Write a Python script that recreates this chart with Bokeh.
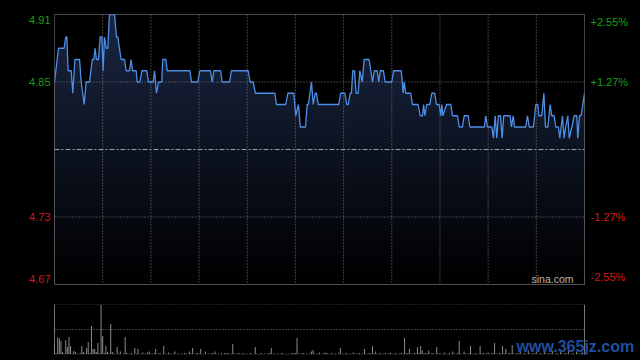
import numpy as np
from bokeh.plotting import figure
from bokeh.layouts import column, row
from bokeh.models import Range1d, Span
from bokeh.core.properties import value
from bokeh.embed import file_html
from bokeh.resources import INLINE

# ---------------- data ----------------
session_minutes = 330          # 09:30-12:00 + 13:00-16:00
prev_close = 4.79
price_low, price_high = 4.67, 4.91

price_ticks = [4.91, 4.85, 4.73, 4.67]
price_tick_labels = ["4.91", "4.85", "4.73", "4.67"]
pct_tick_labels = ["+2.55%", "+1.27%", "-1.27%", "-2.55%"]
grid_prices = [4.85, 4.73]
grid_minutes = [30, 60, 90, 120, 150, 180, 210, 240, 270, 300]

# intraday price line vertices (minute of session, price)
times = [
    0, 2.5, 6.0, 7.0, 7.7, 8.5, 10.4, 11.4, 12.7, 15.6,
    16.6, 18.5, 19.7, 21.8, 23.5, 24.5, 25.3, 26.1, 27.4, 28.4,
    29.5, 30.3, 31.1, 32.2, 33.2, 34.2, 37.4, 38.6, 39.4, 41.5,
    43.6, 44.6, 46.7, 47.7, 48.6, 50.9, 51.5, 53.1, 54.4, 57.5,
    58.5, 61.4, 62.3, 63.5, 64.8, 66.8, 67.4, 69.3, 70.2, 84.3,
    85.3, 89.2, 90.5, 97.1, 98.2, 99.2, 103.4, 104.4, 109.0, 110.2,
    120.6, 121.8, 123.7, 125.1, 137.2, 138.2, 144.0, 145.3, 149.0, 150.2,
    151.9, 153.0, 156.3, 157.3, 158.1, 160.0, 161.1, 162.3, 163.1, 164.2,
    177.0, 178.1, 180.8, 182.0, 182.9, 184.1, 184.9, 185.7, 186.8, 187.8,
    189.1, 190.1, 191.6, 192.8, 195.9, 198.0, 199.1, 200.9, 201.9, 202.8,
    204.8, 205.9, 210.0, 211.1, 215.9, 216.5, 217.1, 217.7, 218.7, 221.8,
    222.9, 226.4, 227.7, 229.1, 229.8, 230.6, 231.8, 233.7, 234.9, 236.8,
    237.8, 239.5, 240.5, 241.2, 241.8, 244.1, 246.8, 247.8, 250.9, 252.0,
    254.0, 255.1, 257.6, 258.6, 265.2, 267.7, 268.5, 269.6, 272.3, 273.3,
    274.4, 275.4, 276.4, 277.7, 278.7, 279.7, 283.7, 284.5, 285.6, 286.4,
    293.4, 294.5, 295.6, 298.2, 299.7, 300.9, 301.5, 303.4, 304.7, 305.7,
    307.2, 308.6, 309.6, 311.1, 312.1, 313.8, 314.6, 316.3, 317.3, 318.3,
    319.6, 320.5, 322.1, 323.6, 325.2, 325.8, 326.9, 327.9, 330,
]
prices = [
    4.85, 4.88, 4.88, 4.89, 4.89, 4.86, 4.86, 4.84, 4.87, 4.87,
    4.85, 4.83, 4.85, 4.85, 4.87, 4.87, 4.88, 4.87, 4.87, 4.89,
    4.89, 4.86, 4.89, 4.88, 4.88, 4.91, 4.91, 4.89, 4.89, 4.87,
    4.87, 4.86, 4.86, 4.87, 4.86, 4.86, 4.85, 4.85, 4.86, 4.86,
    4.85, 4.85, 4.86, 4.84, 4.85, 4.85, 4.87, 4.87, 4.86, 4.86,
    4.85, 4.85, 4.86, 4.86, 4.85, 4.86, 4.86, 4.85, 4.85, 4.86,
    4.86, 4.85, 4.85, 4.84, 4.84, 4.83, 4.83, 4.84, 4.84, 4.82,
    4.83, 4.81, 4.81, 4.83, 4.83, 4.85, 4.83, 4.84, 4.84, 4.83,
    4.83, 4.84, 4.84, 4.83, 4.83, 4.84, 4.84, 4.86, 4.86, 4.84,
    4.84, 4.86, 4.85, 4.87, 4.87, 4.85, 4.86, 4.86, 4.85, 4.86,
    4.86, 4.85, 4.85, 4.86, 4.86, 4.85, 4.84, 4.85, 4.84, 4.84,
    4.83, 4.83, 4.82, 4.82, 4.83, 4.82, 4.83, 4.83, 4.84, 4.84,
    4.83, 4.83, 4.82, 4.83, 4.82, 4.83, 4.83, 4.82, 4.82, 4.81,
    4.81, 4.82, 4.82, 4.81, 4.81, 4.81, 4.82, 4.81, 4.81, 4.80,
    4.82, 4.80, 4.82, 4.82, 4.80, 4.82, 4.82, 4.81, 4.82, 4.81,
    4.81, 4.82, 4.81, 4.81, 4.83, 4.83, 4.82, 4.82, 4.84, 4.81,
    4.81, 4.83, 4.82, 4.82, 4.81, 4.81, 4.80, 4.82, 4.80, 4.81,
    4.82, 4.80, 4.81, 4.82, 4.82, 4.80, 4.82, 4.82, 4.84,
]

# per-minute volume (relative units), one row per 30 minutes
volume = [
    63, 9, 102, 96, 81, 15, 6, 87, 45, 105, 51, 6, 21, 15, 6, 3, 9, 51, 15, 6, 39, 75, 9, 171, 33, 33, 15, 69, 6, 300,
    111, 9, 51, 15, 6, 183, 15, 6, 3, 45, 6, 18, 3, 6, 105, 9, 3, 6, 9, 3, 39, 6, 33, 3, 6, 12, 3, 6, 12, 18,
    6, 3, 9, 33, 3, 9, 6, 3, 51, 6, 3, 12, 6, 3, 6, 18, 3, 6, 3, 6, 3, 9, 6, 3, 18, 6, 39, 3, 6, 9,
    6, 33, 3, 6, 18, 3, 6, 3, 9, 6, 18, 3, 6, 3, 9, 3, 9, 6, 9, 3, 6, 63, 6, 3, 6, 9, 3, 6, 9, 3,
    6, 3, 9, 6, 3, 45, 6, 3, 6, 9, 3, 6, 3, 6, 9, 39, 3, 6, 3, 6, 3, 6, 9, 3, 6, 3, 6, 3, 9, 6,
    9, 99, 6, 3, 6, 9, 3, 6, 3, 6, 18, 27, 6, 3, 6, 12, 3, 6, 9, 12, 6, 3, 6, 9, 3, 6, 3, 9, 39, 6,
    3, 6, 9, 3, 6, 3, 12, 6, 3, 6, 9, 3, 6, 33, 6, 3, 9, 6, 51, 6, 18, 3, 6, 9, 3, 6, 9, 3, 6, 12,
    6, 3, 9, 6, 3, 6, 9, 6, 99, 6, 9, 33, 6, 3, 9, 6, 45, 9, 51, 24, 6, 9, 6, 24, 3, 9, 6, 3, 45, 6,
    9, 3, 6, 12, 3, 6, 9, 3, 18, 6, 3, 9, 81, 6, 3, 18, 6, 3, 9, 51, 6, 3, 9, 6, 3, 51, 6, 9, 3, 6,
    12, 3, 6, 9, 69, 6, 3, 9, 6, 51, 6, 33, 3, 9, 6, 57, 6, 3, 9, 6, 18, 3, 6, 9, 3, 24, 6, 3, 9, 6,
    18, 3, 6, 9, 3, 30, 6, 3, 9, 6, 21, 3, 6, 9, 3, 15, 6, 3, 9, 6, 24, 3, 6, 9, 3, 18, 6, 3, 9, 12, 6,
]
volume_minutes = list(range(len(volume)))

# ---------------- style / layout ----------------
GREEN = "#15a015"
RED = "#d41818"
GRID = "#7a7a7a"
BORDER = "#6e6e6e"
FONT = "Liberation Sans"

LEFT_W, PLOT_W, RIGHT_W = 54, 530, 56      # label gutter, frame, label gutter
TOP, FRAME_H, GAP = 14, 270, 10
VOL_TOP, VOL_H, VOL_BOTTOM = 10, 50, 6

common = dict(output_backend="svg", toolbar_location=None,
              x_axis_location=None, y_axis_location=None,
              background_fill_color="black", border_fill_color="black")

y_range = Range1d(price_low, price_high)

# main price panel (frame drawn with 1px gutter on each side for the outline)
p = figure(width=PLOT_W + 2, height=TOP + FRAME_H + GAP,
           x_range=Range1d(0, session_minutes), y_range=y_range,
           min_border_left=1, min_border_right=1, min_border_top=TOP, min_border_bottom=GAP,
           outline_line_color=BORDER, outline_line_width=1, **common)
p.grid.visible = False

# gradient fill under the price line: gradient image masked above the line
n = 128
frac = np.linspace(0.0, 1.0, n)
top_rgb = (26, 38, 66)
img = np.zeros((n, 1), dtype=np.uint32)
view = img.view(dtype=np.uint8).reshape((n, 1, 4))
for k in range(3):
    view[:, 0, k] = (top_rgb[k] * frac).astype(np.uint8)
view[:, 0, 3] = 255
p.image_rgba(image=[img], x=0, y=price_low, dw=session_minutes,
             dh=price_high - price_low, level="image")
p.varea(x=times, y1=prices, y2=[price_high] * len(times),
        fill_color="black", level="image")

for m in grid_minutes:
    p.add_layout(Span(location=m, dimension="height", line_color=GRID,
                      line_dash="1 2", line_width=1, level="underlay"))
for v in grid_prices:
    p.add_layout(Span(location=v, dimension="width", line_color=GRID,
                      line_dash="1 2", line_width=1, level="underlay"))
p.add_layout(Span(location=prev_close, dimension="width", line_color="#9aa0a8",
                  line_dash="5 2 2 2", line_width=1, level="underlay"))

p.line(times, prices, line_color="#4d8fe8", line_width=1.3)

p.text(x=[session_minutes], y=[price_low], text=["sina.com"], x_offset=-11,
       text_align="right", text_baseline="bottom", text_color="#b4b4b4",
       text_font=value(FONT), text_font_size="10.5px")

# label gutters
pl = figure(width=LEFT_W - 1, height=TOP + FRAME_H + GAP, x_range=Range1d(0, 1), y_range=y_range,
            min_border_left=0, min_border_right=0, min_border_top=TOP, min_border_bottom=GAP,
            outline_line_color=None, **common)
pr = figure(width=RIGHT_W - 1, height=TOP + FRAME_H + GAP, x_range=Range1d(0, 1), y_range=y_range,
            min_border_left=0, min_border_right=0, min_border_top=TOP, min_border_bottom=GAP,
            outline_line_color=None, **common)
pl.grid.visible = False
pr.grid.visible = False

nt = len(price_ticks)
for i, (pv, lab, pct) in enumerate(zip(price_ticks, price_tick_labels, pct_tick_labels)):
    color = GREEN if pv > prev_close else RED
    if i == 0:
        base, dy = "top", 1.5
    elif i == nt - 1:
        base, dy = "bottom", -1.5
    else:
        base, dy = "middle", 0
    pl.text(x=[1], y=[pv], text=[lab], x_offset=-3, y_offset=dy, text_align="right",
            text_baseline=base, text_color=color, text_font=value(FONT),
            text_font_size="11px")
    pr.text(x=[0], y=[pv], text=[pct], x_offset=5, y_offset=dy, text_align="left",
            text_baseline=base, text_color=color, text_font=value(FONT),
            text_font_size="11px")

# ---------------- volume panel ----------------
vmax = max(volume)
total_w = LEFT_W + PLOT_W + RIGHT_W
min_per_px = session_minutes / PLOT_W
p2 = figure(width=total_w, height=VOL_TOP + VOL_H + VOL_BOTTOM,
            x_range=Range1d(-LEFT_W * min_per_px, session_minutes + RIGHT_W * min_per_px),
            y_range=Range1d(0, vmax),
            min_border_left=0, min_border_right=0, min_border_top=VOL_TOP, min_border_bottom=VOL_BOTTOM,
            outline_line_color=None, **common)
p2.grid.visible = False
p2.segment(x0=[0, 0], y0=[vmax, vmax / 2], x1=[session_minutes, session_minutes],
           y1=[vmax, vmax / 2], line_color=GRID, line_dash="1 2", line_width=1)
p2.segment(x0=[0, session_minutes], y0=[0, 0], x1=[0, session_minutes], y1=[vmax, vmax],
           line_color="#777777", line_width=1)
p2.vbar(x=volume_minutes, top=volume, width=0.62, fill_color="#8c8c8c", line_color=None)
p2.text(x=[session_minutes], y=[0], text=["www.365jz.com"], x_offset=-68,
        text_align="left", text_baseline="bottom", text_color="#1f4f9e",
        text_font=value(FONT), text_font_size="16px", text_font_style="bold")

layout = column(row(pl, p, pr, spacing=0), p2, spacing=0)
html = file_html(layout, INLINE)
html = html.replace("</head>", "<style>html,body{background:#000;}</style></head>")
open("out.html", "w").write(html)
